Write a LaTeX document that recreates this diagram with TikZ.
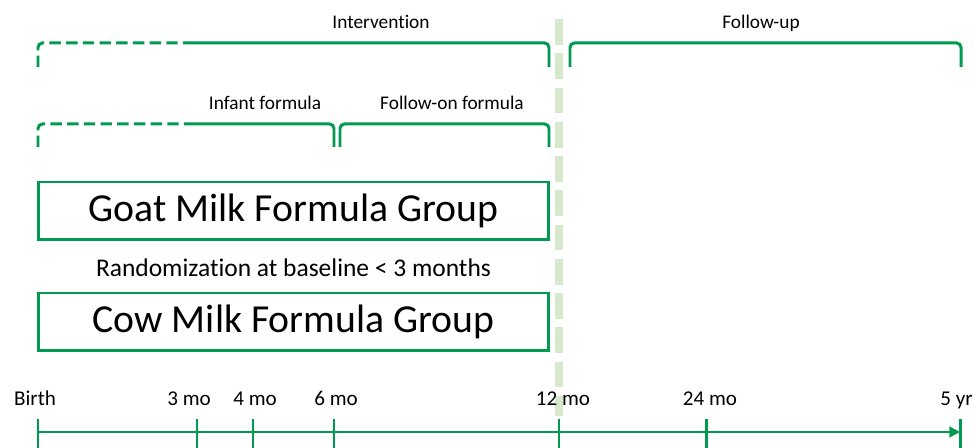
\documentclass[tikz,border=0pt]{standalone}
\usepackage{fontspec}
\setmainfont{Carlito}[Ligatures=NoCommon]
\usetikzlibrary{arrows.meta}
\definecolor{trialgreen}{RGB}{0,155,80}
\definecolor{bandgreen}{RGB}{214,233,204}
\tikzset{
  bracket/.style={draw=trialgreen,line width=1.7pt,rounded corners=2.5pt},
  prior/.style={bracket,dash pattern=on 6.5pt off 3pt},
  groupbox/.style={draw=trialgreen,line width=1.7pt,minimum width=10.22cm,minimum height=1.16cm,inner sep=0pt,font=\fontsize{22.6}{26}\selectfont},
  phase/.style={font=\fontsize{11}{13}\selectfont,anchor=base},
  tick/.style={font=\fontsize{12}{14}\selectfont,anchor=base},
}
\begin{document}
\begin{tikzpicture}[x=0.02cm,y=-0.02cm]
        \useasboundingbox (0,0) rectangle (974,448);
        % cut-off between intervention and follow-up
        \draw[bandgreen,line width=4.5pt,dash pattern=on 14.7pt off 4.8pt] (559,19) -- (559,416);
        % phases
        \draw[prior] (38,67) -- (38,43) -- (187,43);
        \draw[bracket] (187,43) -- (549,43) -- (549,67);
        \draw[bracket] (570,67) -- (570,43) -- (961,43) -- (961,67);
        \node[phase] (intervention) at (381,29) {Intervention};
        \node[phase] (followup) at (761,29) {Follow-up};
        \draw[prior] (38,147) -- (38,124) -- (187,124);
        \draw[bracket] (187,124) -- (334,124) -- (334,147);
        \draw[bracket] (340,147) -- (340,124) -- (549,124) -- (549,147);
        \node[phase] (infant) at (265,110) {Infant formula};
        \node[phase] (followon) at (452,110) {Follow-on formula};
        % groups
        \node[groupbox] (goat) at (293.5,211) {Goat Milk Formula Group};
        \node[font=\fontsize{14.5}{17}\selectfont] (random) at (293.5,268) {Randomization at baseline < 3 months};
        \node[groupbox] (cow) at (293.5,322) {Cow Milk Formula Group};
        % timeline
        \coordinate (birth) at (38,432);
        \coordinate (m3) at (197,432);
        \coordinate (m4) at (253,432);
        \coordinate (m6) at (334,432);
        \coordinate (m12) at (559,432);
        \coordinate (m24) at (706,432);
        \coordinate (y5) at (960,432);
        \draw[trialgreen,line width=1.7pt,-{Triangle[length=6pt,width=6pt]}] (birth) -- (y5);
        \foreach \t in {birth,m3,m4,m6,m12,m24,y5}
          \draw[trialgreen,line width=1.7pt] ([yshift=7.5pt]\t) -- ([yshift=-9pt]\t);
        \node[tick] (lbirth) at (35,406) {Birth};
        \node[tick] (l3) at (189,406) {3 mo};
        \node[tick] (l4) at (255,406) {4 mo};
        \node[tick] (l6) at (336,406) {6 mo};
        \node[tick] (l12) at (563,406) {12 mo};
        \node[tick] (l24) at (710,406) {24 mo};
        \node[tick,anchor=base west,inner sep=0pt] (l5) at (940,406) {5 yr};
    \end{tikzpicture}
\end{document}
